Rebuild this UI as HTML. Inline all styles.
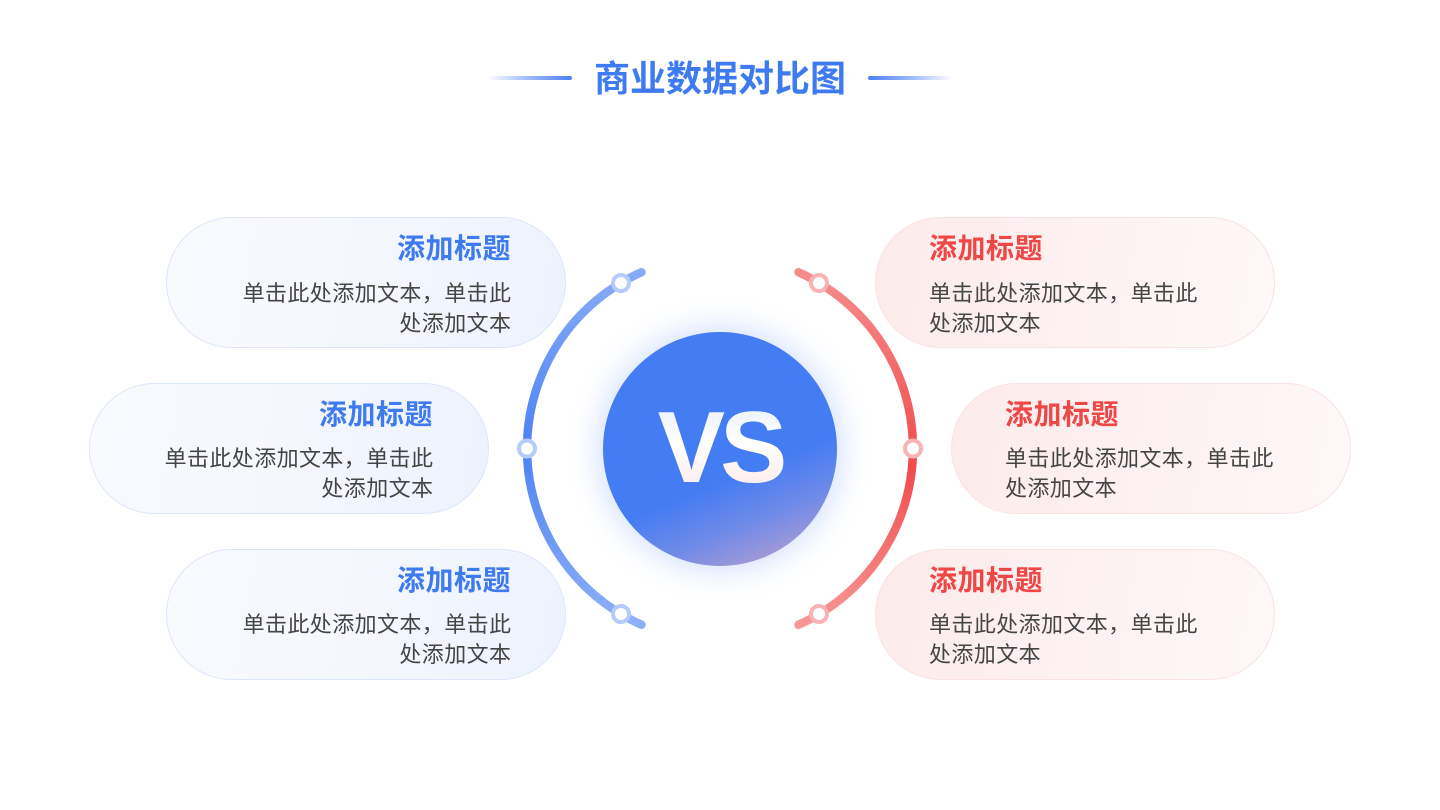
<!DOCTYPE html>
<html>
<head>
<meta charset="utf-8">
<style>
  html,body{margin:0;padding:0;}
  body{width:1440px;height:810px;background:#ffffff;position:relative;overflow:hidden;
    font-family:"Liberation Sans","Noto Sans CJK SC",sans-serif;}
  .abs{position:absolute;}
  .hdr{position:absolute;left:520px;width:400px;top:56px;height:46px;line-height:46px;text-align:center;
    font-size:36px;font-weight:bold;color:#3F7BF0;letter-spacing:0px;}
  .line{position:absolute;top:76px;height:4px;width:85px;border-radius:2px;}
  .pill{position:absolute;width:398px;height:129px;border-radius:66px;box-sizing:content-box;}
  .pl{background:linear-gradient(100deg,#F9FAFE 0%,#F4F7FE 50%,#EDF2FD 100%);border:1.5px solid #DCE6FB;}
  .pr{background:linear-gradient(100deg,#FDEBEB 0%,#FDF1F1 50%,#FEF8F8 100%);border:1.5px solid #FAE2E2;}
  .tt{position:absolute;font-size:28px;font-weight:bold;line-height:32px;height:32px;white-space:nowrap;letter-spacing:0.5px;}
  .tb{color:#3F7BF0;}
  .tr{color:#EF4646;}
  .bd{position:absolute;font-size:22px;line-height:30px;color:#454545;letter-spacing:0.4px;white-space:nowrap;}
  .ra{text-align:right;}
  .vs{position:absolute;left:603px;top:331.5px;width:234px;height:234px;border-radius:50%;
    background:linear-gradient(158deg,#437CF3 0%,#437CF3 60%,#6F8AE8 76%,#C9A6CA 100%);
    box-shadow:0 0 28px 6px rgba(67,124,243,0.22);}
  .vstxt{position:absolute;left:560px;width:320px;top:393px;height:110px;line-height:110px;text-align:center;
    font-size:101px;font-weight:bold;letter-spacing:-5px;
    background:linear-gradient(180deg,#E3ECFD 0%,#FFFFFF 45%,#FCE6E6 100%);
    -webkit-background-clip:text;background-clip:text;color:transparent;-webkit-text-fill-color:transparent;}
</style>
</head>
<body>

<!-- header -->
<div class="line" style="left:487px;background:linear-gradient(90deg,rgba(74,128,242,0) 0%,rgba(74,128,242,0.5) 45%,#4A80F2 100%);"></div>
<div class="line" style="left:868px;background:linear-gradient(90deg,#4A80F2 0%,rgba(74,128,242,0.5) 55%,rgba(74,128,242,0) 100%);"></div>
<div class="hdr">商业数据对比图</div>

<!-- left pills -->
<div class="pill pl" style="left:166px;top:217px;"></div>
<div class="pill pl" style="left:89px;top:383px;"></div>
<div class="pill pl" style="left:166px;top:549px;"></div>

<!-- right pills -->
<div class="pill pr" style="left:875px;top:217px;"></div>
<div class="pill pr" style="left:951px;top:383px;"></div>
<div class="pill pr" style="left:875px;top:549px;"></div>

<!-- arcs & nodes -->
<svg class="abs" style="left:0;top:0;" width="1440" height="810" viewBox="0 0 1440 810">
  <defs>
    <linearGradient id="gl" x1="0" y1="272" x2="0" y2="625" gradientUnits="userSpaceOnUse">
      <stop offset="0" stop-color="#88ABF8"/>
      <stop offset="0.5" stop-color="#4C82F3"/>
      <stop offset="1" stop-color="#8EB0F8"/>
    </linearGradient>
    <linearGradient id="gr" x1="0" y1="272" x2="0" y2="625" gradientUnits="userSpaceOnUse">
      <stop offset="0" stop-color="#F68E8E"/>
      <stop offset="0.55" stop-color="#F04A4A"/>
      <stop offset="1" stop-color="#F79898"/>
    </linearGradient>
  </defs>
  <path d="M 641.5 272.2 A 193 193 0 0 0 641.5 624.8" fill="none" stroke="url(#gl)" stroke-width="8.5" stroke-linecap="round"/>
  <path d="M 798.5 272.2 A 193 193 0 0 1 798.5 624.8" fill="none" stroke="url(#gr)" stroke-width="8.5" stroke-linecap="round"/>
  <g fill="#ffffff" stroke="#B5CBFA" stroke-width="4">
    <circle cx="621" cy="283" r="8"/>
    <circle cx="527" cy="448.5" r="8"/>
    <circle cx="621" cy="614" r="8"/>
  </g>
  <g fill="#ffffff" stroke="#F8B4B4" stroke-width="4">
    <circle cx="819" cy="283" r="8"/>
    <circle cx="913" cy="448.5" r="8"/>
    <circle cx="819" cy="614" r="8"/>
  </g>
</svg>

<!-- VS circle -->
<div class="vs"></div>
<div class="vstxt">VS</div>

<!-- left texts (right aligned) -->
<div class="tt tb ra" style="right:929px;top:233px;">添加标题</div>
<div class="bd ra" style="right:928.6px;top:279px;">单击此处添加文本，单击此<br>处添加文本</div>

<div class="tt tb ra" style="right:1007px;top:399px;">添加标题</div>
<div class="bd ra" style="right:1006.6px;top:444px;">单击此处添加文本，单击此<br>处添加文本</div>

<div class="tt tb ra" style="right:929px;top:565px;">添加标题</div>
<div class="bd ra" style="right:928.6px;top:610px;">单击此处添加文本，单击此<br>处添加文本</div>

<!-- right texts (left aligned) -->
<div class="tt tr" style="left:929px;top:233px;">添加标题</div>
<div class="bd" style="left:929px;top:279px;">单击此处添加文本，单击此<br>处添加文本</div>

<div class="tt tr" style="left:1005px;top:399px;">添加标题</div>
<div class="bd" style="left:1005px;top:444px;">单击此处添加文本，单击此<br>处添加文本</div>

<div class="tt tr" style="left:929px;top:565px;">添加标题</div>
<div class="bd" style="left:929px;top:610px;">单击此处添加文本，单击此<br>处添加文本</div>

</body>
</html>
